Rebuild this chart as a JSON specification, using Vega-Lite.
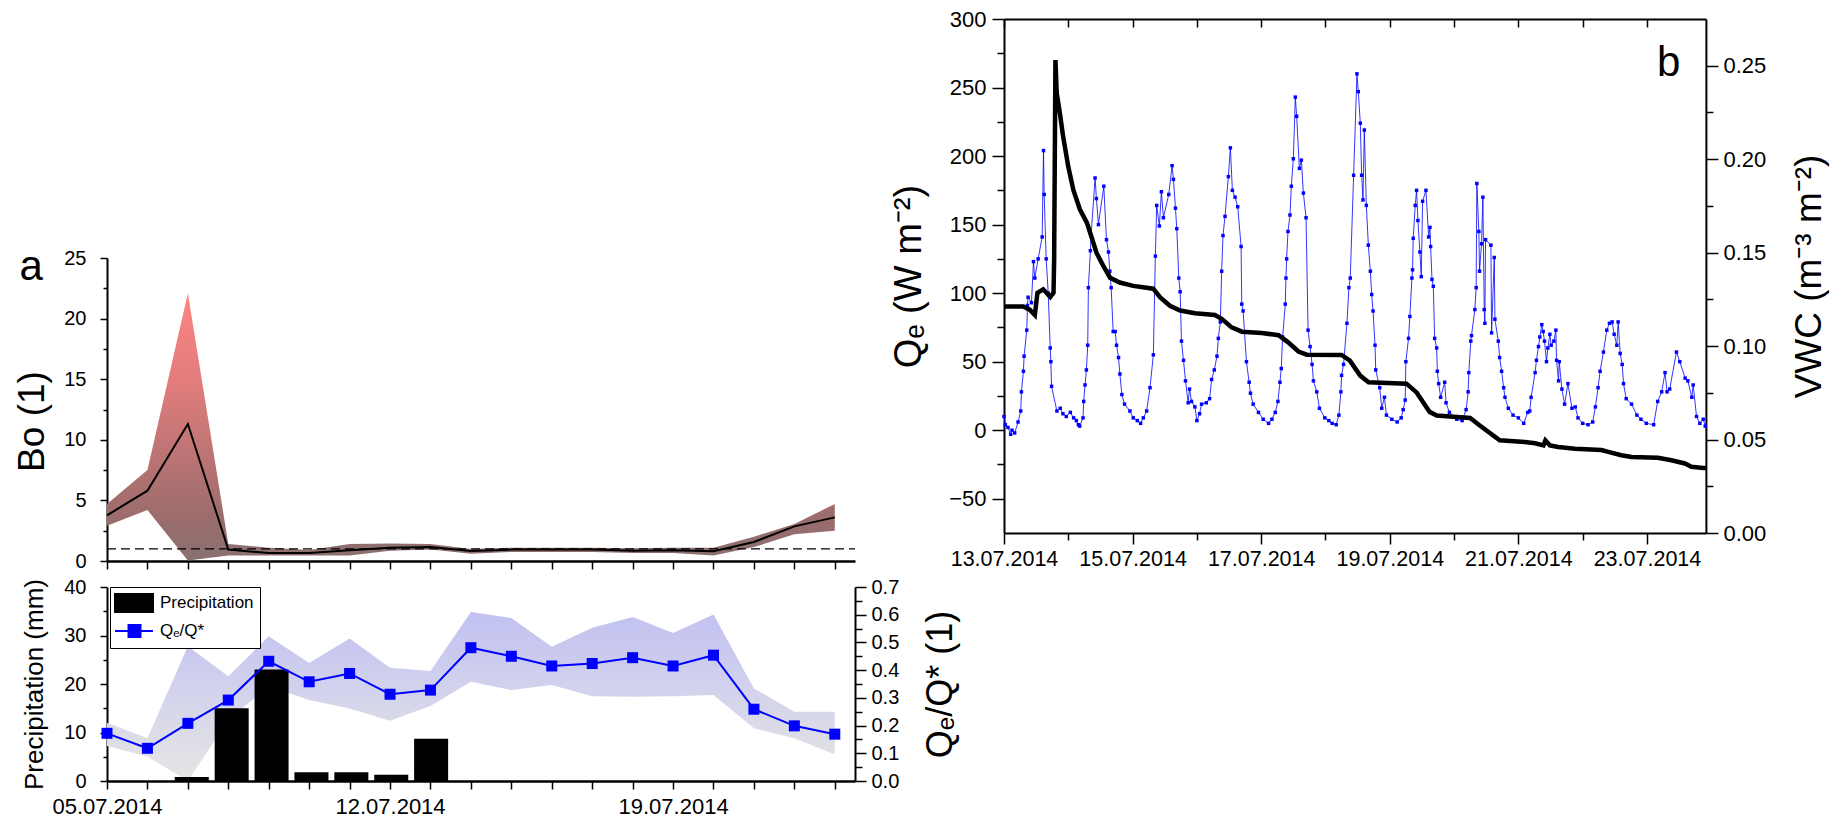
{
  "$schema": "https://vega.github.io/schema/vega-lite/v6.json",
  "background": "white",
  "autosize": "none",
  "padding": 0,
  "width": 1845,
  "height": 819,
  "config": {
    "font": "Liberation Sans",
    "view": {"stroke": null},
    "axis": {"domainColor": "black", "domainWidth": 2, "tickColor": "black", "tickWidth": 1.5, "labelColor": "black", "titleColor": "black", "labelFont": "Liberation Sans", "titleFont": "Liberation Sans", "titleFontWeight": "normal", "grid": false, "labelFlush": false, "labelOverlap": false}
  },
  "datasets": {
    "daily": [
      {"date": "2014-07-05T00:00", "bo": 3.77, "bo_lo": 2.9, "bo_hi": 4.7, "r": 0.172, "r_lo": 0.126, "r_hi": 0.21},
      {"date": "2014-07-06T00:00", "bo": 5.8, "bo_lo": 4.2, "bo_hi": 7.5, "r": 0.118, "r_lo": 0.088, "r_hi": 0.154},
      {"date": "2014-07-07T00:00", "bo": 11.3, "bo_lo": 0.05, "bo_hi": 22.1, "r": 0.208, "r_lo": 0.0, "r_hi": 0.486},
      {"date": "2014-07-08T00:00", "bo": 0.94, "bo_lo": 0.45, "bo_hi": 1.4, "r": 0.292, "r_lo": 0.22, "r_hi": 0.378},
      {"date": "2014-07-09T00:00", "bo": 0.66, "bo_lo": 0.45, "bo_hi": 1.1, "r": 0.432, "r_lo": 0.342, "r_hi": 0.522},
      {"date": "2014-07-10T00:00", "bo": 0.66, "bo_lo": 0.45, "bo_hi": 0.9, "r": 0.358, "r_lo": 0.292, "r_hi": 0.426},
      {"date": "2014-07-11T00:00", "bo": 0.88, "bo_lo": 0.45, "bo_hi": 1.4, "r": 0.388, "r_lo": 0.262, "r_hi": 0.514},
      {"date": "2014-07-12T00:00", "bo": 1.1, "bo_lo": 0.85, "bo_hi": 1.45, "r": 0.313, "r_lo": 0.217, "r_hi": 0.409},
      {"date": "2014-07-13T00:00", "bo": 1.15, "bo_lo": 0.95, "bo_hi": 1.4, "r": 0.328, "r_lo": 0.271, "r_hi": 0.397},
      {"date": "2014-07-14T00:00", "bo": 0.83, "bo_lo": 0.6, "bo_hi": 1.0, "r": 0.481, "r_lo": 0.358, "r_hi": 0.61},
      {"date": "2014-07-15T00:00", "bo": 0.94, "bo_lo": 0.75, "bo_hi": 1.1, "r": 0.45, "r_lo": 0.328, "r_hi": 0.588},
      {"date": "2014-07-16T00:00", "bo": 0.94, "bo_lo": 0.75, "bo_hi": 1.1, "r": 0.415, "r_lo": 0.346, "r_hi": 0.484},
      {"date": "2014-07-17T00:00", "bo": 0.94, "bo_lo": 0.75, "bo_hi": 1.1, "r": 0.424, "r_lo": 0.306, "r_hi": 0.553},
      {"date": "2014-07-18T00:00", "bo": 0.85, "bo_lo": 0.65, "bo_hi": 1.05, "r": 0.445, "r_lo": 0.304, "r_hi": 0.592},
      {"date": "2014-07-19T00:00", "bo": 0.88, "bo_lo": 0.65, "bo_hi": 1.1, "r": 0.415, "r_lo": 0.306, "r_hi": 0.534},
      {"date": "2014-07-20T00:00", "bo": 0.8, "bo_lo": 0.45, "bo_hi": 1.1, "r": 0.454, "r_lo": 0.31, "r_hi": 0.601},
      {"date": "2014-07-21T00:00", "bo": 1.57, "bo_lo": 1.15, "bo_hi": 2.0, "r": 0.259, "r_lo": 0.19, "r_hi": 0.334},
      {"date": "2014-07-22T00:00", "bo": 2.86, "bo_lo": 2.2, "bo_hi": 3.05, "r": 0.199, "r_lo": 0.154, "r_hi": 0.25},
      {"date": "2014-07-23T00:00", "bo": 3.6, "bo_lo": 2.5, "bo_hi": 4.7, "r": 0.169, "r_lo": 0.096, "r_hi": 0.25}
    ],
    "precip": [
      {"date": "2014-07-07T00:00", "p": 0.8},
      {"date": "2014-07-08T00:00", "p": 15},
      {"date": "2014-07-09T00:00", "p": 23},
      {"date": "2014-07-10T00:00", "p": 1.8},
      {"date": "2014-07-11T00:00", "p": 1.8},
      {"date": "2014-07-12T00:00", "p": 1.3},
      {"date": "2014-07-13T00:00", "p": 8.7}
    ],
    "qe": [
      {"t": "2014-07-13T00:00", "q": 10}, {"t": "2014-07-13T00:30", "q": 4}, {"t": "2014-07-13T01:30", "q": 2}, {"t": "2014-07-13T02:30", "q": -3}, {"t": "2014-07-13T03:00", "q": 0}, {"t": "2014-07-13T04:00", "q": -2}, {"t": "2014-07-13T05:15", "q": 6}, {"t": "2014-07-13T06:15", "q": 14}, {"t": "2014-07-13T06:30", "q": 28}, {"t": "2014-07-13T07:15", "q": 43}, {"t": "2014-07-13T07:30", "q": 54}, {"t": "2014-07-13T08:30", "q": 73}, {"t": "2014-07-13T08:45", "q": 91}, {"t": "2014-07-13T09:00", "q": 97}, {"t": "2014-07-13T10:15", "q": 93}, {"t": "2014-07-13T11:00", "q": 123}, {"t": "2014-07-13T11:30", "q": 111}, {"t": "2014-07-13T12:45", "q": 125}, {"t": "2014-07-13T14:15", "q": 141}, {"t": "2014-07-13T14:45", "q": 204}, {"t": "2014-07-13T15:00", "q": 172}, {"t": "2014-07-13T15:45", "q": 125}, {"t": "2014-07-13T16:30", "q": 100}, {"t": "2014-07-13T17:15", "q": 60}, {"t": "2014-07-13T17:30", "q": 50}, {"t": "2014-07-13T17:45", "q": 32}, {"t": "2014-07-13T19:45", "q": 14}, {"t": "2014-07-13T21:00", "q": 16}, {"t": "2014-07-13T22:00", "q": 12}, {"t": "2014-07-13T23:15", "q": 10},
      {"t": "2014-07-14T00:45", "q": 13}, {"t": "2014-07-14T02:00", "q": 9}, {"t": "2014-07-14T03:00", "q": 7}, {"t": "2014-07-14T03:45", "q": 4}, {"t": "2014-07-14T04:15", "q": 3}, {"t": "2014-07-14T05:30", "q": 9}, {"t": "2014-07-14T05:45", "q": 21}, {"t": "2014-07-14T06:15", "q": 33}, {"t": "2014-07-14T06:45", "q": 44}, {"t": "2014-07-14T07:15", "q": 62}, {"t": "2014-07-14T07:30", "q": 104}, {"t": "2014-07-14T08:15", "q": 131}, {"t": "2014-07-14T08:30", "q": 142}, {"t": "2014-07-14T10:00", "q": 184}, {"t": "2014-07-14T10:30", "q": 169}, {"t": "2014-07-14T11:15", "q": 150}, {"t": "2014-07-14T13:15", "q": 178}, {"t": "2014-07-14T14:15", "q": 139}, {"t": "2014-07-14T15:00", "q": 130}, {"t": "2014-07-14T15:30", "q": 116}, {"t": "2014-07-14T16:00", "q": 104}, {"t": "2014-07-14T16:45", "q": 72}, {"t": "2014-07-14T17:30", "q": 72}, {"t": "2014-07-14T18:00", "q": 62}, {"t": "2014-07-14T18:45", "q": 53}, {"t": "2014-07-14T19:15", "q": 41}, {"t": "2014-07-14T20:00", "q": 26}, {"t": "2014-07-14T21:00", "q": 19}, {"t": "2014-07-14T23:00", "q": 14},
      {"t": "2014-07-15T00:15", "q": 9}, {"t": "2014-07-15T01:45", "q": 7}, {"t": "2014-07-15T03:00", "q": 5}, {"t": "2014-07-15T04:00", "q": 9}, {"t": "2014-07-15T05:15", "q": 14}, {"t": "2014-07-15T06:30", "q": 31}, {"t": "2014-07-15T07:45", "q": 55}, {"t": "2014-07-15T08:30", "q": 127}, {"t": "2014-07-15T09:00", "q": 164}, {"t": "2014-07-15T10:00", "q": 149}, {"t": "2014-07-15T10:45", "q": 174}, {"t": "2014-07-15T11:30", "q": 155}, {"t": "2014-07-15T13:30", "q": 172}, {"t": "2014-07-15T14:45", "q": 193}, {"t": "2014-07-15T15:15", "q": 183}, {"t": "2014-07-15T16:00", "q": 162}, {"t": "2014-07-15T16:30", "q": 147}, {"t": "2014-07-15T17:15", "q": 111}, {"t": "2014-07-15T17:45", "q": 101}, {"t": "2014-07-15T18:15", "q": 65}, {"t": "2014-07-15T19:00", "q": 51}, {"t": "2014-07-15T19:45", "q": 36}, {"t": "2014-07-15T20:45", "q": 20}, {"t": "2014-07-15T21:15", "q": 30}, {"t": "2014-07-15T22:00", "q": 21}, {"t": "2014-07-15T23:15", "q": 17},
      {"t": "2014-07-16T00:00", "q": 7}, {"t": "2014-07-16T01:00", "q": 12}, {"t": "2014-07-16T01:45", "q": 19}, {"t": "2014-07-16T03:30", "q": 20}, {"t": "2014-07-16T04:45", "q": 23}, {"t": "2014-07-16T05:30", "q": 37}, {"t": "2014-07-16T06:30", "q": 44}, {"t": "2014-07-16T07:30", "q": 54}, {"t": "2014-07-16T08:00", "q": 67}, {"t": "2014-07-16T08:45", "q": 79}, {"t": "2014-07-16T09:15", "q": 116}, {"t": "2014-07-16T09:45", "q": 142}, {"t": "2014-07-16T10:30", "q": 156}, {"t": "2014-07-16T11:45", "q": 185}, {"t": "2014-07-16T12:30", "q": 206}, {"t": "2014-07-16T13:15", "q": 175}, {"t": "2014-07-16T14:15", "q": 170}, {"t": "2014-07-16T15:15", "q": 163}, {"t": "2014-07-16T16:30", "q": 134}, {"t": "2014-07-16T16:45", "q": 92}, {"t": "2014-07-16T17:15", "q": 87}, {"t": "2014-07-16T18:30", "q": 50}, {"t": "2014-07-16T19:30", "q": 35}, {"t": "2014-07-16T20:00", "q": 27}, {"t": "2014-07-16T21:00", "q": 19}, {"t": "2014-07-16T23:00", "q": 13},
      {"t": "2014-07-17T00:45", "q": 8}, {"t": "2014-07-17T02:45", "q": 5}, {"t": "2014-07-17T04:00", "q": 8}, {"t": "2014-07-17T05:15", "q": 13}, {"t": "2014-07-17T06:15", "q": 21}, {"t": "2014-07-17T07:00", "q": 35}, {"t": "2014-07-17T07:30", "q": 45}, {"t": "2014-07-17T08:00", "q": 68}, {"t": "2014-07-17T09:00", "q": 92}, {"t": "2014-07-17T09:15", "q": 111}, {"t": "2014-07-17T09:30", "q": 125}, {"t": "2014-07-17T10:00", "q": 145}, {"t": "2014-07-17T10:45", "q": 157}, {"t": "2014-07-17T11:15", "q": 178}, {"t": "2014-07-17T12:00", "q": 198}, {"t": "2014-07-17T12:45", "q": 243}, {"t": "2014-07-17T13:15", "q": 229}, {"t": "2014-07-17T14:15", "q": 191}, {"t": "2014-07-17T15:00", "q": 197}, {"t": "2014-07-17T15:45", "q": 173}, {"t": "2014-07-17T16:45", "q": 155}, {"t": "2014-07-17T17:30", "q": 73}, {"t": "2014-07-17T18:15", "q": 61}, {"t": "2014-07-17T19:00", "q": 48}, {"t": "2014-07-17T19:30", "q": 36}, {"t": "2014-07-17T20:45", "q": 28}, {"t": "2014-07-17T21:45", "q": 16}, {"t": "2014-07-17T23:45", "q": 9},
      {"t": "2014-07-18T01:15", "q": 7}, {"t": "2014-07-18T02:30", "q": 5}, {"t": "2014-07-18T04:00", "q": 4}, {"t": "2014-07-18T05:00", "q": 11}, {"t": "2014-07-18T05:45", "q": 28}, {"t": "2014-07-18T06:00", "q": 40}, {"t": "2014-07-18T06:45", "q": 48}, {"t": "2014-07-18T08:00", "q": 78}, {"t": "2014-07-18T08:45", "q": 104}, {"t": "2014-07-18T09:15", "q": 111}, {"t": "2014-07-18T10:30", "q": 186}, {"t": "2014-07-18T11:45", "q": 260}, {"t": "2014-07-18T12:15", "q": 247}, {"t": "2014-07-18T13:00", "q": 224}, {"t": "2014-07-18T13:30", "q": 186}, {"t": "2014-07-18T14:00", "q": 168}, {"t": "2014-07-18T14:30", "q": 219}, {"t": "2014-07-18T15:15", "q": 164}, {"t": "2014-07-18T16:00", "q": 135}, {"t": "2014-07-18T16:45", "q": 116}, {"t": "2014-07-18T17:15", "q": 99}, {"t": "2014-07-18T17:45", "q": 87}, {"t": "2014-07-18T18:30", "q": 62}, {"t": "2014-07-18T18:45", "q": 44}, {"t": "2014-07-18T20:15", "q": 31}, {"t": "2014-07-18T21:00", "q": 16}, {"t": "2014-07-18T22:00", "q": 24}, {"t": "2014-07-18T22:45", "q": 11},
      {"t": "2014-07-19T00:45", "q": 8}, {"t": "2014-07-19T02:45", "q": 6}, {"t": "2014-07-19T04:15", "q": 9}, {"t": "2014-07-19T05:00", "q": 15}, {"t": "2014-07-19T05:45", "q": 22}, {"t": "2014-07-19T06:00", "q": 50}, {"t": "2014-07-19T07:00", "q": 67}, {"t": "2014-07-19T07:30", "q": 83}, {"t": "2014-07-19T08:15", "q": 111}, {"t": "2014-07-19T08:30", "q": 117}, {"t": "2014-07-19T08:45", "q": 140}, {"t": "2014-07-19T09:30", "q": 164}, {"t": "2014-07-19T10:00", "q": 175}, {"t": "2014-07-19T10:30", "q": 153}, {"t": "2014-07-19T11:15", "q": 130}, {"t": "2014-07-19T11:45", "q": 112}, {"t": "2014-07-19T12:15", "q": 167}, {"t": "2014-07-19T13:30", "q": 175}, {"t": "2014-07-19T14:30", "q": 141}, {"t": "2014-07-19T15:00", "q": 148}, {"t": "2014-07-19T15:15", "q": 134}, {"t": "2014-07-19T15:45", "q": 110}, {"t": "2014-07-19T16:15", "q": 105}, {"t": "2014-07-19T16:45", "q": 67}, {"t": "2014-07-19T17:30", "q": 60}, {"t": "2014-07-19T17:45", "q": 43}, {"t": "2014-07-19T18:15", "q": 34}, {"t": "2014-07-19T19:00", "q": 24}, {"t": "2014-07-19T20:30", "q": 35}, {"t": "2014-07-19T21:00", "q": 20}, {"t": "2014-07-19T22:15", "q": 13},
      {"t": "2014-07-20T01:00", "q": 8}, {"t": "2014-07-20T03:00", "q": 7}, {"t": "2014-07-20T04:30", "q": 15}, {"t": "2014-07-20T05:15", "q": 28}, {"t": "2014-07-20T05:30", "q": 42}, {"t": "2014-07-20T06:15", "q": 65}, {"t": "2014-07-20T06:30", "q": 69}, {"t": "2014-07-20T07:45", "q": 88}, {"t": "2014-07-20T08:15", "q": 104}, {"t": "2014-07-20T08:30", "q": 180}, {"t": "2014-07-20T09:15", "q": 145}, {"t": "2014-07-20T09:30", "q": 116}, {"t": "2014-07-20T10:15", "q": 136}, {"t": "2014-07-20T10:45", "q": 170}, {"t": "2014-07-20T11:15", "q": 88}, {"t": "2014-07-20T11:30", "q": 78}, {"t": "2014-07-20T11:45", "q": 139}, {"t": "2014-07-20T13:45", "q": 135}, {"t": "2014-07-20T14:00", "q": 71}, {"t": "2014-07-20T15:00", "q": 126}, {"t": "2014-07-20T15:15", "q": 81}, {"t": "2014-07-20T16:30", "q": 65}, {"t": "2014-07-20T17:00", "q": 53}, {"t": "2014-07-20T17:45", "q": 43}, {"t": "2014-07-20T18:30", "q": 31}, {"t": "2014-07-20T19:00", "q": 24}, {"t": "2014-07-20T20:15", "q": 16}, {"t": "2014-07-20T22:00", "q": 11},
      {"t": "2014-07-21T00:00", "q": 9}, {"t": "2014-07-21T02:00", "q": 5}, {"t": "2014-07-21T03:30", "q": 13}, {"t": "2014-07-21T04:15", "q": 14}, {"t": "2014-07-21T04:45", "q": 24}, {"t": "2014-07-21T06:15", "q": 42}, {"t": "2014-07-21T06:45", "q": 51}, {"t": "2014-07-21T07:30", "q": 61}, {"t": "2014-07-21T08:00", "q": 68}, {"t": "2014-07-21T08:45", "q": 77}, {"t": "2014-07-21T09:15", "q": 72}, {"t": "2014-07-21T09:45", "q": 65}, {"t": "2014-07-21T10:30", "q": 50}, {"t": "2014-07-21T11:00", "q": 60}, {"t": "2014-07-21T11:45", "q": 70}, {"t": "2014-07-21T12:15", "q": 62}, {"t": "2014-07-21T13:15", "q": 65}, {"t": "2014-07-21T14:00", "q": 73}, {"t": "2014-07-21T14:15", "q": 51}, {"t": "2014-07-21T15:00", "q": 36}, {"t": "2014-07-21T15:15", "q": 50}, {"t": "2014-07-21T16:15", "q": 30}, {"t": "2014-07-21T17:15", "q": 19}, {"t": "2014-07-21T18:30", "q": 34}, {"t": "2014-07-21T20:00", "q": 16}, {"t": "2014-07-21T21:15", "q": 17}, {"t": "2014-07-21T22:15", "q": 9},
      {"t": "2014-07-22T00:00", "q": 5}, {"t": "2014-07-22T02:00", "q": 4}, {"t": "2014-07-22T03:45", "q": 6}, {"t": "2014-07-22T04:45", "q": 17}, {"t": "2014-07-22T05:45", "q": 31}, {"t": "2014-07-22T06:30", "q": 43}, {"t": "2014-07-22T07:45", "q": 57}, {"t": "2014-07-22T09:00", "q": 73}, {"t": "2014-07-22T10:00", "q": 78}, {"t": "2014-07-22T11:00", "q": 79}, {"t": "2014-07-22T11:45", "q": 70}, {"t": "2014-07-22T12:45", "q": 62}, {"t": "2014-07-22T13:15", "q": 79}, {"t": "2014-07-22T14:00", "q": 56}, {"t": "2014-07-22T14:45", "q": 48}, {"t": "2014-07-22T15:15", "q": 34}, {"t": "2014-07-22T16:15", "q": 23}, {"t": "2014-07-22T18:15", "q": 19}, {"t": "2014-07-22T20:15", "q": 11}, {"t": "2014-07-22T21:45", "q": 8}, {"t": "2014-07-22T23:45", "q": 5},
      {"t": "2014-07-23T02:30", "q": 4}, {"t": "2014-07-23T04:00", "q": 21}, {"t": "2014-07-23T05:30", "q": 28}, {"t": "2014-07-23T06:45", "q": 42}, {"t": "2014-07-23T07:30", "q": 28}, {"t": "2014-07-23T08:30", "q": 30}, {"t": "2014-07-23T11:00", "q": 57}, {"t": "2014-07-23T12:15", "q": 50}, {"t": "2014-07-23T14:15", "q": 38}, {"t": "2014-07-23T15:15", "q": 36}, {"t": "2014-07-23T16:45", "q": 24}, {"t": "2014-07-23T17:15", "q": 33}, {"t": "2014-07-23T18:30", "q": 10}, {"t": "2014-07-23T19:45", "q": 5}, {"t": "2014-07-23T21:00", "q": 8}, {"t": "2014-07-23T21:45", "q": 3}
    ],
    "vwc": [
      {"t": "2014-07-13T00:00", "v": 0.1212}, {"t": "2014-07-13T07:12", "v": 0.1212}, {"t": "2014-07-13T09:36", "v": 0.1195}, {"t": "2014-07-13T11:31", "v": 0.1166}, {"t": "2014-07-13T12:29", "v": 0.1285}, {"t": "2014-07-13T14:38", "v": 0.1304}, {"t": "2014-07-13T17:17", "v": 0.1263}, {"t": "2014-07-13T18:29", "v": 0.1285}, {"t": "2014-07-13T18:43", "v": 0.1461}, {"t": "2014-07-13T19:12", "v": 0.253}, {"t": "2014-07-13T19:41", "v": 0.2354}, {"t": "2014-07-13T20:53", "v": 0.2244}, {"t": "2014-07-13T22:05", "v": 0.212},
      {"t": "2014-07-14T00:00", "v": 0.1959}, {"t": "2014-07-14T01:55", "v": 0.1834}, {"t": "2014-07-14T04:19", "v": 0.1732}, {"t": "2014-07-14T06:58", "v": 0.1659}, {"t": "2014-07-14T08:38", "v": 0.1585}, {"t": "2014-07-14T10:34", "v": 0.1498}, {"t": "2014-07-14T12:58", "v": 0.1432}, {"t": "2014-07-14T15:36", "v": 0.1366}, {"t": "2014-07-14T19:12", "v": 0.134},
      {"t": "2014-07-15T00:14", "v": 0.1322}, {"t": "2014-07-15T07:41", "v": 0.1307}, {"t": "2014-07-15T10:19", "v": 0.126}, {"t": "2014-07-15T13:55", "v": 0.1216}, {"t": "2014-07-15T17:46", "v": 0.119}, {"t": "2014-07-15T23:17", "v": 0.1176},
      {"t": "2014-07-16T06:43", "v": 0.1166}, {"t": "2014-07-16T09:22", "v": 0.1145}, {"t": "2014-07-16T12:58", "v": 0.11}, {"t": "2014-07-16T16:48", "v": 0.1077},
      {"t": "2014-07-17T00:14", "v": 0.107}, {"t": "2014-07-17T06:29", "v": 0.1058}, {"t": "2014-07-17T10:05", "v": 0.102}, {"t": "2014-07-17T13:55", "v": 0.0971}, {"t": "2014-07-17T17:02", "v": 0.0954},
      {"t": "2014-07-18T06:00", "v": 0.0953}, {"t": "2014-07-18T09:07", "v": 0.0922}, {"t": "2014-07-18T12:58", "v": 0.0842}, {"t": "2014-07-18T16:05", "v": 0.0807},
      {"t": "2014-07-19T06:14", "v": 0.0799}, {"t": "2014-07-19T10:05", "v": 0.0751}, {"t": "2014-07-19T14:53", "v": 0.0648}, {"t": "2014-07-19T17:31", "v": 0.0629},
      {"t": "2014-07-20T06:00", "v": 0.0615}, {"t": "2014-07-20T09:36", "v": 0.0575}, {"t": "2014-07-20T17:02", "v": 0.0496},
      {"t": "2014-07-21T02:24", "v": 0.0487}, {"t": "2014-07-21T06:14", "v": 0.048}, {"t": "2014-07-21T09:22", "v": 0.0469}, {"t": "2014-07-21T10:05", "v": 0.0495}, {"t": "2014-07-21T11:46", "v": 0.0469}, {"t": "2014-07-21T14:53", "v": 0.046}, {"t": "2014-07-21T21:07", "v": 0.0451},
      {"t": "2014-07-22T06:58", "v": 0.0444}, {"t": "2014-07-22T09:36", "v": 0.0434}, {"t": "2014-07-22T14:24", "v": 0.0416}, {"t": "2014-07-22T18:14", "v": 0.0407},
      {"t": "2014-07-23T04:05", "v": 0.0402}, {"t": "2014-07-23T09:07", "v": 0.0389}, {"t": "2014-07-23T14:10", "v": 0.0372}, {"t": "2014-07-23T16:34", "v": 0.0354}, {"t": "2014-07-23T21:00", "v": 0.0348}, {"t": "2014-07-23T22:00", "v": 0.0348}
    ],
    "refline": [{"x0": "2014-07-05T00:00", "x1": "2014-07-23T12:00", "ref": 1}],
    "labelA": [{"label": "a", "t": "2014-07-02T20:04", "v": 23.2}],
    "labelB": [{"label": "b", "t": "2014-07-23T03:43", "v": 258.4}],
    "dummy": [{"z": 0}]
  },
  "layer": [
    {
      "data": {"name": "daily"},
      "mark": {"type": "area", "opacity": 1, "fill": {"gradient": "linear", "x1": 0, "y1": 0, "x2": 0, "y2": 1, "stops": [{"offset": 0, "color": "#ff8383"}, {"offset": 0.35, "color": "#e07c7c"}, {"offset": 0.6, "color": "#bd7474"}, {"offset": 0.85, "color": "#9a6c6c"}, {"offset": 1, "color": "#8a7070"}]}},
      "encoding": {
        "x": {"field": "date", "type": "temporal", "title": null,
          "scale": {"domain": [{"year": 2014, "month": 7, "date": 5}, {"year": 2014, "month": 7, "date": 23, "hours": 12}], "range": [107, 855], "nice": false},
          "axis": {"orient": "bottom", "offset": -258, "values": [{"year": 2014, "month": 7, "date": 5}, {"year": 2014, "month": 7, "date": 6}, {"year": 2014, "month": 7, "date": 7}, {"year": 2014, "month": 7, "date": 8}, {"year": 2014, "month": 7, "date": 9}, {"year": 2014, "month": 7, "date": 10}, {"year": 2014, "month": 7, "date": 11}, {"year": 2014, "month": 7, "date": 12}, {"year": 2014, "month": 7, "date": 13}, {"year": 2014, "month": 7, "date": 14}, {"year": 2014, "month": 7, "date": 15}, {"year": 2014, "month": 7, "date": 16}, {"year": 2014, "month": 7, "date": 17}, {"year": 2014, "month": 7, "date": 18}, {"year": 2014, "month": 7, "date": 19}, {"year": 2014, "month": 7, "date": 20}, {"year": 2014, "month": 7, "date": 21}, {"year": 2014, "month": 7, "date": 22}, {"year": 2014, "month": 7, "date": 23}], "labels": false, "tickSize": 8, "domainWidth": 2.5}},
        "y": {"field": "bo_hi", "type": "quantitative",
          "scale": {"domain": [0, 25], "range": [561, 258], "nice": false, "zero": false},
          "axis": {"orient": "left", "offset": -107, "values": [0, 5, 10, 15, 20, 25], "tickSize": 7, "labelPadding": 14, "labelFontSize": 20, "title": "Bo (1)", "titleFontSize": 37, "titleX": -64, "titleY": 421, "titleBaseline": "alphabetic", "titleAlign": "center"}},
        "y2": {"field": "bo_lo"}
      }
    },
    {
      "data": {"name": "daily"},
      "mark": {"type": "line", "color": "black", "strokeWidth": 2},
      "encoding": {
        "x": {"field": "date", "type": "temporal", "scale": {"domain": [{"year": 2014, "month": 7, "date": 5}, {"year": 2014, "month": 7, "date": 23, "hours": 12}], "range": [107, 855], "nice": false}, "axis": null},
        "y": {"field": "bo", "type": "quantitative", "scale": {"domain": [0, 25], "range": [561, 258], "nice": false, "zero": false}, "axis": null}
      }
    },
    {
      "data": {"name": "dummy"},
      "mark": {"type": "rule", "opacity": 0},
      "encoding": {
        "y": {"datum": 0, "type": "quantitative", "scale": {"domain": [0, 25], "range": [561, 258], "nice": false, "zero": false},
          "axis": {"orient": "left", "offset": -107, "values": [2.5, 7.5, 12.5, 17.5, 22.5], "labels": false, "tickSize": 4, "domain": false, "title": null}}
      }
    },
    {
      "data": {"name": "refline"},
      "mark": {"type": "rule", "color": "black", "strokeWidth": 1.3, "strokeDash": [9, 5]},
      "encoding": {
        "x": {"field": "x0", "type": "temporal", "scale": {"domain": [{"year": 2014, "month": 7, "date": 5}, {"year": 2014, "month": 7, "date": 23, "hours": 12}], "range": [107, 855], "nice": false}, "axis": null},
        "x2": {"field": "x1"},
        "y": {"field": "ref", "type": "quantitative", "scale": {"domain": [0, 25], "range": [561, 258], "nice": false, "zero": false}, "axis": null}
      }
    },
    {
      "data": {"name": "labelA"},
      "mark": {"type": "text", "align": "left", "baseline": "alphabetic", "fontSize": 42, "font": "Liberation Sans", "color": "black"},
      "encoding": {
        "x": {"field": "t", "type": "temporal", "scale": {"domain": [{"year": 2014, "month": 7, "date": 5}, {"year": 2014, "month": 7, "date": 23, "hours": 12}], "range": [107, 855], "nice": false}, "axis": null},
        "y": {"field": "v", "type": "quantitative", "scale": {"domain": [0, 25], "range": [561, 258], "nice": false, "zero": false}, "axis": null},
        "text": {"field": "label"}
      }
    },
    {
      "data": {"name": "daily"},
      "mark": {"type": "area", "opacity": 1, "fill": {"gradient": "linear", "x1": 0, "y1": 0, "x2": 0, "y2": 1, "stops": [{"offset": 0, "color": "#c2c2f0"}, {"offset": 0.15, "color": "#c6c6f0"}, {"offset": 0.4, "color": "#d0d0ee"}, {"offset": 0.72, "color": "#dcdce8"}, {"offset": 1, "color": "#e6e6e6"}]}},
      "encoding": {
        "x": {"field": "date", "type": "temporal", "title": null,
          "scale": {"domain": [{"year": 2014, "month": 7, "date": 5}, {"year": 2014, "month": 7, "date": 23, "hours": 12}], "range": [107, 855], "nice": false},
          "axis": {"orient": "bottom", "offset": -38, "values": [{"year": 2014, "month": 7, "date": 5}, {"year": 2014, "month": 7, "date": 6}, {"year": 2014, "month": 7, "date": 7}, {"year": 2014, "month": 7, "date": 8}, {"year": 2014, "month": 7, "date": 9}, {"year": 2014, "month": 7, "date": 10}, {"year": 2014, "month": 7, "date": 11}, {"year": 2014, "month": 7, "date": 12}, {"year": 2014, "month": 7, "date": 13}, {"year": 2014, "month": 7, "date": 14}, {"year": 2014, "month": 7, "date": 15}, {"year": 2014, "month": 7, "date": 16}, {"year": 2014, "month": 7, "date": 17}, {"year": 2014, "month": 7, "date": 18}, {"year": 2014, "month": 7, "date": 19}, {"year": 2014, "month": 7, "date": 20}, {"year": 2014, "month": 7, "date": 21}, {"year": 2014, "month": 7, "date": 22}, {"year": 2014, "month": 7, "date": 23}], "labelExpr": "indexof(['05','12','19'], timeFormat(datum.value, '%d')) >= 0 ? timeFormat(datum.value, '%d.%m.%Y') : ''", "labelFontSize": 22, "labelPadding": 7, "tickSize": 8, "domainWidth": 2.5}},
        "y": {"field": "r_hi", "type": "quantitative",
          "scale": {"domain": [0, 0.7], "range": [781, 587], "nice": false},
          "axis": {"orient": "right", "offset": -990, "values": [0, 0.1, 0.2, 0.3, 0.4, 0.5, 0.6, 0.7], "format": ".1f", "tickSize": 11, "labelPadding": 5, "labelFontSize": 20, "title": "Qₑ/Q* (1)", "titleAngle": 270, "titleAlign": "center", "titleFontSize": 36, "titleX": 96, "titleBaseline": "alphabetic"}},
        "y2": {"field": "r_lo"}
      }
    },
    {
      "data": {"name": "dummy"},
      "mark": {"type": "rule", "opacity": 0},
      "encoding": {
        "y": {"datum": 0, "type": "quantitative", "scale": {"domain": [0, 0.7], "range": [781, 587], "nice": false},
          "axis": {"orient": "right", "offset": -990, "values": [0.05, 0.15, 0.25, 0.35, 0.45, 0.55, 0.65], "labels": false, "tickSize": 7, "domain": false, "title": null}}
      }
    },
    {
      "data": {"name": "precip"},
      "mark": {"type": "bar", "width": 34},
      "encoding": {
        "x": {"field": "date", "type": "temporal", "scale": {"domain": [{"year": 2014, "month": 7, "date": 5}, {"year": 2014, "month": 7, "date": 23, "hours": 12}], "range": [107, 855], "nice": false}, "axis": null},
        "y": {"field": "p", "type": "quantitative", "scale": {"domain": [0, 40], "range": [781, 587], "nice": false},
          "axis": {"orient": "left", "offset": -107, "values": [0, 10, 20, 30, 40], "tickSize": 7, "labelPadding": 14, "labelFontSize": 20, "title": "Precipitation (mm)", "titleFontSize": 26, "titleX": -64.5, "titleBaseline": "alphabetic", "titleAlign": "center"}},
        "color": {"datum": "Precipitation",
          "scale": {"domain": ["Precipitation", "Qₑ/Q*"], "range": ["#000000", "#0000ff"]},
          "legend": {"orient": "none", "legendX": 110, "legendY": 587, "title": null, "strokeColor": "black", "fillColor": "white", "padding": 6, "symbolSize": 324, "labelFontSize": 17, "labelFont": "Liberation Sans", "labelOffset": 24, "rowPadding": 4, "labelColor": "black",
            "encode": {"symbols": {"update": {
              "shape": {"signal": "datum.value === 'Precipitation' ? 'M-1.22,-1H3V1H-1.22Z' : 'M-1.22,0H3M0.28,-0.67H1.61V0.67H0.28Z'"},
              "fill": {"signal": "datum.value === 'Precipitation' ? '#000000' : '#0000ff'"},
              "stroke": {"signal": "datum.value === 'Precipitation' ? '#000000' : '#0000ff'"},
              "strokeWidth": {"value": 2},
              "opacity": {"value": 1}
            }}}}}
      }
    },
    {
      "data": {"name": "dummy"},
      "mark": {"type": "rule", "opacity": 0},
      "encoding": {
        "y": {"datum": 0, "type": "quantitative", "scale": {"domain": [0, 40], "range": [781, 587], "nice": false},
          "axis": {"orient": "left", "offset": -107, "values": [5, 15, 25, 35], "labels": false, "tickSize": 4, "domain": false, "title": null}}
      }
    },
    {
      "data": {"name": "daily"},
      "mark": {"type": "line", "strokeWidth": 2, "point": {"shape": "square", "size": 121, "filled": true, "opacity": 1}},
      "encoding": {
        "x": {"field": "date", "type": "temporal", "scale": {"domain": [{"year": 2014, "month": 7, "date": 5}, {"year": 2014, "month": 7, "date": 23, "hours": 12}], "range": [107, 855], "nice": false}, "axis": null},
        "y": {"field": "r", "type": "quantitative", "scale": {"domain": [0, 0.7], "range": [781, 587], "nice": false}, "axis": null},
        "color": {"datum": "Qₑ/Q*"}
      }
    },
    {
      "data": {"name": "qe"},
      "mark": {"type": "line", "color": "#0000ff", "strokeWidth": 0.8, "point": {"shape": "square", "size": 12, "filled": true, "color": "#0000ff", "opacity": 1}},
      "encoding": {
        "x": {"field": "t", "type": "temporal", "title": null,
          "scale": {"domain": [{"year": 2014, "month": 7, "date": 13}, {"year": 2014, "month": 7, "date": 23, "hours": 22}], "range": [1004, 1705.9], "nice": false},
          "axis": {"orient": "bottom", "offset": -286, "values": [{"year": 2014, "month": 7, "date": 13}, {"year": 2014, "month": 7, "date": 15}, {"year": 2014, "month": 7, "date": 17}, {"year": 2014, "month": 7, "date": 19}, {"year": 2014, "month": 7, "date": 21}, {"year": 2014, "month": 7, "date": 23}], "format": "%d.%m.%Y", "labelFontSize": 21.5, "labelPadding": 4, "tickSize": 11}},
        "y": {"field": "q", "type": "quantitative", "scale": {"domain": [-75, 300], "range": [533, 19], "nice": false, "zero": false},
          "axis": {"orient": "left", "offset": -1004, "values": [-50, 0, 50, 100, 150, 200, 250, 300], "tickSize": 12, "labelPadding": 6, "labelFontSize": 22, "title": "Qₑ (W m⁻²)", "titleFontSize": 38, "titleX": -84, "titleBaseline": "alphabetic", "titleAlign": "center"}}
      }
    },
    {
      "data": {"name": "dummy"},
      "mark": {"type": "rule", "opacity": 0},
      "encoding": {
        "x": {"datum": {"year": 2014, "month": 7, "date": 14}, "type": "temporal", "scale": {"domain": [{"year": 2014, "month": 7, "date": 13}, {"year": 2014, "month": 7, "date": 23, "hours": 22}], "range": [1004, 1705.9], "nice": false},
          "axis": {"orient": "bottom", "offset": -286, "values": [{"year": 2014, "month": 7, "date": 14}, {"year": 2014, "month": 7, "date": 16}, {"year": 2014, "month": 7, "date": 18}, {"year": 2014, "month": 7, "date": 20}, {"year": 2014, "month": 7, "date": 22}], "labels": false, "tickSize": 7, "domain": false, "title": null}},
        "y": {"datum": 0, "type": "quantitative", "scale": {"domain": [-75, 300], "range": [533, 19], "nice": false, "zero": false},
          "axis": {"orient": "left", "offset": -1004, "values": [-25, 25, 75, 125, 175, 225, 275], "labels": false, "tickSize": 7, "domain": false, "title": null}}
      }
    },
    {
      "data": {"name": "vwc"},
      "mark": {"type": "line", "color": "black", "strokeWidth": 4.5},
      "encoding": {
        "x": {"field": "t", "type": "temporal", "title": null,
          "scale": {"domain": [{"year": 2014, "month": 7, "date": 13}, {"year": 2014, "month": 7, "date": 23, "hours": 22}], "range": [1004, 1705.9], "nice": false},
          "axis": {"orient": "top", "offset": -19, "values": [{"year": 2014, "month": 7, "date": 13}, {"year": 2014, "month": 7, "date": 14}, {"year": 2014, "month": 7, "date": 15}, {"year": 2014, "month": 7, "date": 16}, {"year": 2014, "month": 7, "date": 17}, {"year": 2014, "month": 7, "date": 18}, {"year": 2014, "month": 7, "date": 19}, {"year": 2014, "month": 7, "date": 20}, {"year": 2014, "month": 7, "date": 21}, {"year": 2014, "month": 7, "date": 22}, {"year": 2014, "month": 7, "date": 23}], "labels": false, "tickSize": -8, "title": null}},
        "y": {"field": "v", "type": "quantitative", "scale": {"domain": [0, 0.275], "range": [533, 19], "nice": false},
          "axis": {"orient": "right", "offset": -139.1, "values": [0, 0.05, 0.1, 0.15, 0.2, 0.25], "format": ".2f", "tickSize": 12, "labelPadding": 5, "labelFontSize": 22, "title": "VWC (m⁻³ m⁻²)", "titleAngle": 270, "titleAlign": "center", "titleFontSize": 37, "titleX": 115, "titleBaseline": "alphabetic"}}
      }
    },
    {
      "data": {"name": "dummy"},
      "mark": {"type": "rule", "opacity": 0},
      "encoding": {
        "y": {"datum": 0, "type": "quantitative", "scale": {"domain": [0, 0.275], "range": [533, 19], "nice": false},
          "axis": {"orient": "right", "offset": -139.1, "values": [0.025, 0.075, 0.125, 0.175, 0.225], "labels": false, "tickSize": 7, "domain": false, "title": null}}
      }
    },
    {
      "data": {"name": "labelB"},
      "mark": {"type": "text", "align": "left", "baseline": "alphabetic", "fontSize": 42, "font": "Liberation Sans", "color": "black"},
      "encoding": {
        "x": {"field": "t", "type": "temporal", "scale": {"domain": [{"year": 2014, "month": 7, "date": 13}, {"year": 2014, "month": 7, "date": 23, "hours": 22}], "range": [1004, 1705.9], "nice": false}, "axis": null},
        "y": {"field": "v", "type": "quantitative", "scale": {"domain": [-75, 300], "range": [533, 19], "nice": false, "zero": false}, "axis": null},
        "text": {"field": "label"}
      }
    }
  ],
  "resolve": {"scale": {"x": "independent", "y": "independent"}, "axis": {"x": "independent", "y": "independent"}}
}
